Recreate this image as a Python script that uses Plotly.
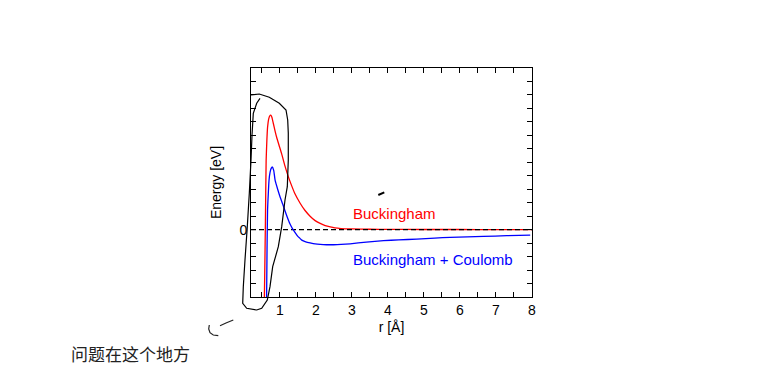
import plotly.graph_objects as go

# ---------------- data ----------------
r_buck = [0.565, 0.58, 0.60, 0.62, 0.64, 0.66, 0.69, 0.72, 0.75, 0.78, 0.82, 0.87, 0.91, 0.98, 1.05, 1.14, 1.24, 1.33, 1.42, 1.56, 1.70, 1.84, 1.98, 2.12, 2.26, 2.40, 2.53, 2.7, 3.0, 3.5, 4.0, 5.0, 6.0, 7.0, 8.0]
e_buck = [-6.0, -3.5, 0.5, 5.1, 6.6, 7.6, 8.2, 8.45, 8.5, 8.35, 7.88, 7.3, 6.88, 6.25, 5.64, 4.75, 3.9, 3.25, 2.66, 1.98, 1.42, 1.0, 0.67, 0.46, 0.3, 0.2, 0.13, 0.08, 0.05, 0.03, 0.02, 0.01, 0.01, 0.0, 0.0]

r_coul = [0.63, 0.645, 0.66, 0.68, 0.70, 0.73, 0.76, 0.79, 0.83, 0.87, 0.94, 1.01, 1.08, 1.14, 1.21, 1.28, 1.35, 1.42, 1.50, 1.56, 1.61, 1.72, 1.84, 1.98, 2.12, 2.3, 2.49, 2.7, 2.95, 3.4, 3.88, 4.3, 4.8, 5.3, 5.73, 6.2, 6.65, 7.3, 7.95]
e_coul = [-6.0, -1.5, 1.5, 2.66, 3.65, 4.27, 4.55, 4.65, 4.4, 3.65, 3.0, 2.41, 1.9, 1.42, 0.9, 0.43, 0.08, -0.2, -0.5, -0.65, -0.78, -0.9, -0.98, -1.06, -1.1, -1.12, -1.12, -1.1, -1.05, -0.93, -0.82, -0.76, -0.7, -0.63, -0.57, -0.53, -0.5, -0.45, -0.4]

zero_r = [0.2, 8.0]
zero_e = [0.0, 0.0]

x_tickvals = [0.5, 1, 1.5, 2, 2.5, 3, 3.5, 4, 4.5, 5, 5.5, 6, 6.5, 7, 7.5, 8]
x_ticktext = ["", "1", "", "2", "", "3", "", "4", "", "5", "", "6", "", "7", "", "8"]
y_tickvals = list(range(-5, 13))
y_ticktext = ["0" if v == 0 else "" for v in y_tickvals]

label_buck = "Buckingham"
label_coul = "Buckingham + Coulomb"
note_text = "问题在这个地方"

# hand-drawn annotation strokes (pixel positions in the page)
loop_px = [(260, 98.3), (256.7, 103.3), (253.3, 113.3), (252, 135), (251, 160), (249.3, 193.3), (247.3, 226.7),
           (245, 260), (243.3, 286.7), (242.7, 303.3), (246.7, 308.3), (256.7, 310), (261.7, 308.3),
           (267.3, 300), (270, 286.7), (272.7, 266.7), (278.3, 246.7), (281.7, 226.7), (285, 200),
           (287.3, 186.7), (288.3, 160), (288.3, 133), (287.7, 120), (286, 110), (279.3, 103.3),
           (269.3, 97.3), (259.3, 94), (251, 95)]
dash_px = [(378.3, 195), (384.3, 192.3)]
hook_a_px = [(209.3, 325), (208.7, 329), (210, 332.7), (213.3, 335), (218.3, 335.7)]
hook_b_px = [(220, 325.7), (226, 323), (233.3, 320)]

# ---------------- figure ----------------
W, H = 775, 387
OFF = 8  # page body margin
PL, PT, PW, PH = 251, 68, 281, 229  # plot area on the page
ML, MT = PL - OFF, PT - OFF
MR, MB = W - ML - PW, H - MT - PH


def to_paper(pts):
    return [((px - PL) / PW, (PT + PH - py) / PH) for px, py in pts]


def path_of(pts):
    p = to_paper(pts)
    return "M " + " L ".join(f"{x:.4f},{y:.4f}" for x, y in p)


FONT = "Arial, Liberation Sans, sans-serif"

fig = go.Figure()
fig.add_trace(go.Scatter(x=r_buck, y=e_buck, mode="lines", line=dict(color="#ff0000", width=1.3, shape="spline", smoothing=0.5),
                         showlegend=False, hoverinfo="skip"))
fig.add_trace(go.Scatter(x=zero_r, y=zero_e, mode="lines", line=dict(color="black", width=1.2, dash="5px,3px"),
                         showlegend=False, hoverinfo="skip"))
fig.add_trace(go.Scatter(x=r_coul, y=e_coul, mode="lines", line=dict(color="#0000ff", width=1.3, shape="spline", smoothing=0.5),
                         showlegend=False, hoverinfo="skip"))

fig.add_annotation(x=2.98, y=1.19, text=label_buck, showarrow=False, xanchor="left", yanchor="middle",
                   font=dict(family=FONT, size=15, color="#ff0000"))
fig.add_annotation(x=2.98, y=-2.24, text=label_coul, showarrow=False, xanchor="left", yanchor="middle",
                   font=dict(family=FONT, size=15, color="#0000ff"))

fig.add_annotation(x=(130 - PL) / PW, y=(PT + PH - 353) / PH, xref="paper", yref="paper", text=note_text,
                   showarrow=False, xanchor="center", yanchor="middle",
                   font=dict(family="Noto Sans CJK SC", size=17, color="#222222"))

shape_line = dict(type="path", xref="paper", yref="paper", layer="above")
fig.add_shape(path=path_of(loop_px), line=dict(color="black", width=1.2), **shape_line)
fig.add_shape(path=path_of(dash_px), line=dict(color="black", width=2), **shape_line)
fig.add_shape(path=path_of(hook_a_px), line=dict(color="#222222", width=1.2), **shape_line)
fig.add_shape(path=path_of(hook_b_px), line=dict(color="#222222", width=1.2), **shape_line)

axis_common = dict(showgrid=False, zeroline=False, showline=True, linecolor="black", linewidth=1,
                   mirror="ticks", ticks="inside", ticklen=5, tickcolor="black", tickwidth=1,
                   tickfont=dict(family=FONT, size=14, color="black"))

fig.update_xaxes(range=[0.2, 8], tickmode="array", tickvals=x_tickvals, ticktext=x_ticktext,
                 title=dict(text="r [Å]", font=dict(family=FONT, size=14, color="black"), standoff=5),
                 **axis_common)
fig.update_yaxes(range=[-5, 12], tickmode="array", tickvals=y_tickvals, ticktext=y_ticktext,
                 title=dict(text="Energy [eV]", font=dict(family=FONT, size=14, color="black"), standoff=14),
                 **axis_common)

fig.update_layout(width=W, height=H, margin=dict(l=ML, r=MR, t=MT, b=MB, autoexpand=False),
                  paper_bgcolor="white", plot_bgcolor="white", showlegend=False)

fig.write_html("out.html")
